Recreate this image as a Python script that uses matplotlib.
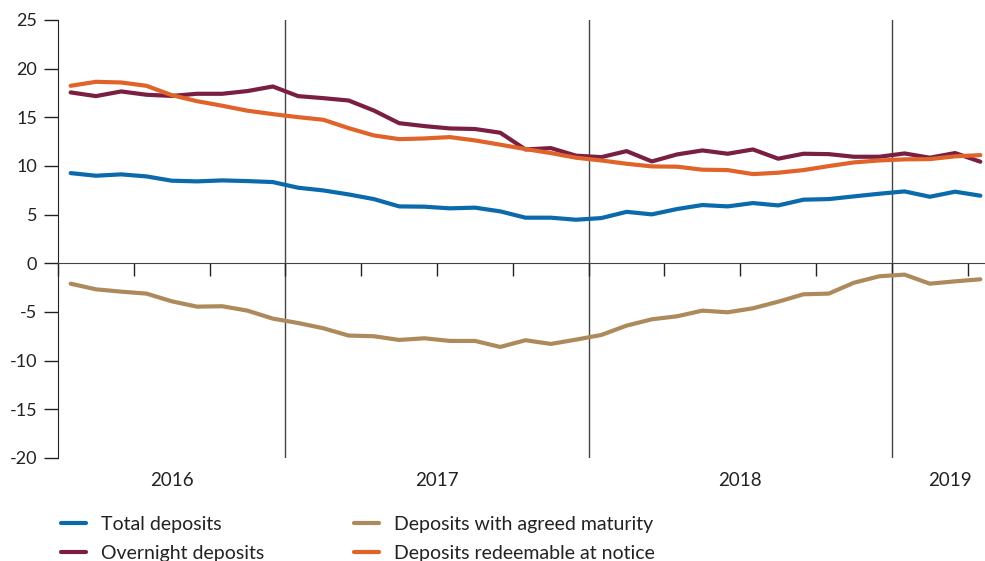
import numpy as np
import matplotlib
matplotlib.use("Agg")
import matplotlib.pyplot as plt
import matplotlib.transforms as mtransforms

plt.rcParams['font.family'] = ['Lato', 'DejaVu Sans']

# monthly observations, April 2016 - April 2019
start_label = "Apr 2016"
n_months = 37

total = [9.27, 9.0, 9.14, 8.93, 8.49, 8.42, 8.52, 8.45, 8.35,
         7.77, 7.49, 7.08, 6.6, 5.85, 5.82, 5.65, 5.72, 5.34, 4.69, 4.69, 4.48,
         4.65, 5.29, 5.03, 5.58, 5.99, 5.85, 6.19, 5.95, 6.54, 6.6, 6.88, 7.15,
         7.39, 6.84, 7.36, 6.95]
overnight = [17.56, 17.18, 17.66, 17.32, 17.2, 17.42, 17.42, 17.7, 18.17,
             17.18, 16.97, 16.73, 15.7, 14.4, 14.1, 13.86, 13.8, 13.42, 11.7, 11.84, 11.06,
             10.91, 11.53, 10.47, 11.19, 11.6, 11.26, 11.7, 10.75, 11.26, 11.22, 10.95, 10.95,
             11.29, 10.85, 11.33, 10.44]
agreed = [-2.09, -2.67, -2.91, -3.11, -3.9, -4.45, -4.41, -4.86, -5.68,
          -6.13, -6.67, -7.42, -7.49, -7.87, -7.7, -7.97, -7.97, -8.59, -7.9, -8.28, -7.84,
          -7.36, -6.4, -5.75, -5.44, -4.86, -5.03, -4.62, -3.94, -3.18, -3.11, -1.99, -1.33,
          -1.16, -2.09, -1.85, -1.64]
redeemable = [18.24, 18.65, 18.58, 18.24, 17.28, 16.66, 16.19, 15.68, 15.33,
              15.02, 14.75, 13.89, 13.14, 12.76, 12.83, 12.97, 12.63, 12.19, 11.74, 11.33, 10.85,
              10.57, 10.23, 9.96, 9.93, 9.62, 9.58, 9.17, 9.31, 9.58, 9.99, 10.37, 10.57,
              10.68, 10.71, 10.99, 11.12]

years = ["2016", "2017", "2018", "2019"]
year_starts = [9, 21, 33]          # months since Apr 2016 where a new year begins
year_centres = [4.5, 15, 27, 35.3]

x = np.arange(n_months) + 0.5      # plotted mid-month

fig = plt.figure(figsize=(9.85, 5.61), dpi=100)
ax = fig.add_axes([58/985, 1 - 458/561, 1 - 58/985, (458 - 20)/561])

ax.plot(x, total, color='#0b6aac', lw=3, label='Total deposits', solid_capstyle='round')
ax.plot(x, overnight, color='#7b1f42', lw=3, label='Overnight deposits', solid_capstyle='round')
ax.plot(x, agreed, color='#ad8a5c', lw=3, label='Deposits with agreed maturity', solid_capstyle='round')
ax.plot(x, redeemable, color='#e0632a', lw=3, label='Deposits redeemable at notice', solid_capstyle='round')

for ys in year_starts:
    ax.axvline(ys, color='#444444', lw=1, zorder=0)

ax.set_xlim(0, (985 - 58) / 25.27)
ax.set_ylim(-20, 25)
ax.set_yticks(np.arange(-20, 26, 5))
ax.set_yticklabels([str(v) for v in range(-20, 26, 5)])

ax.spines['top'].set_visible(False)
ax.spines['right'].set_visible(False)
ax.spines['bottom'].set_position(('data', 0))
ax.spines['bottom'].set_color('#444444')
ax.spines['left'].set_color('#222222')
ax.set_xticks(np.arange(0, 37, 3))
ax.set_xticklabels([])
ax.tick_params(axis='x', length=9, width=1, color='#222222', direction='out')
ax.tick_params(axis='y', length=10, width=1, color='#222222', labelsize=13, pad=5,
               labelcolor='#222222')

trans = mtransforms.blended_transform_factory(ax.transData, fig.transFigure)
for yr, xc in zip(years, year_centres):
    ax.text(xc, 1 - 480/561, yr, transform=trans, ha='center', va='center',
            fontsize=13.5, color='#222222')

fig.legend(loc='upper left', bbox_to_anchor=(61/985, 1 - 516/561), ncol=2,
           frameon=False, fontsize=14, handlelength=1.3, handletextpad=0.77,
           columnspacing=4.6, labelspacing=0.6, borderpad=0, borderaxespad=0,
           labelcolor='#222222')

fig.savefig('out.png', dpi=100)
